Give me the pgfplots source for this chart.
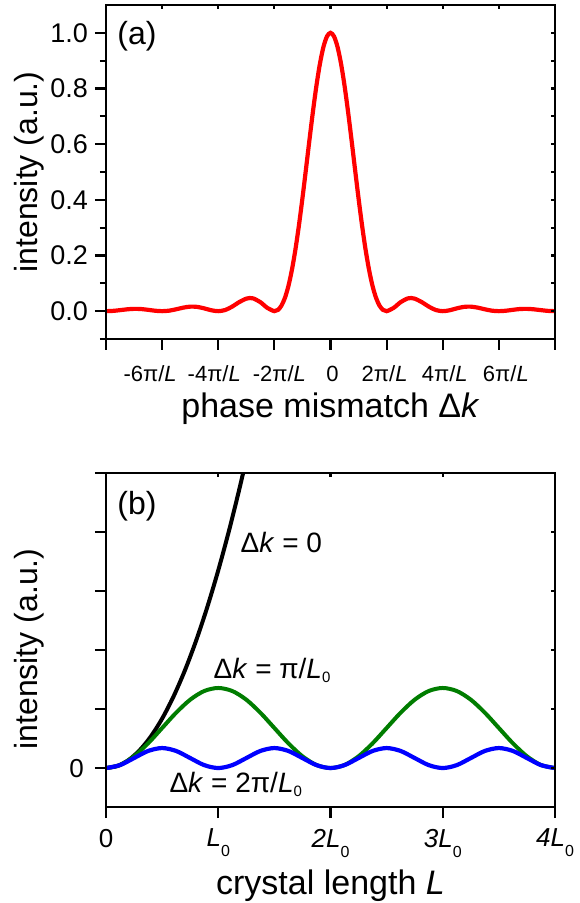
\documentclass[border=0pt]{standalone}
\usepackage{pgfplots}
\pgfplotsset{compat=1.18}
\usepackage{fontspec}
\setmainfont{Liberation Sans}
\definecolor{dgreen}{RGB}{0,125,0}
\tikzset{lab/.style={font=\fontsize{16}{18}\selectfont},
  xlab/.style={font=\fontsize{17}{19}\selectfont},
  ann/.style={font=\fontsize{14}{16}\selectfont, inner sep=0pt, anchor=base west}}
\newcommand\tsub[1]{\raisebox{-5pt}{\fontsize{8}{9}\selectfont #1}}
\newcommand\asub[1]{\raisebox{-2pt}{\fontsize{7.5}{9}\selectfont #1}}
\newcommand\sh[2]{\hspace*{#1}#2\hspace*{-#1}}
\pgfplotsset{
  frame/.style={scale only axis, width=224.5pt, height=167pt,
    axis line style={line width=1.3pt}, every tick/.style={black, line width=1.1pt}},
  overlay/.style={frame, tick align=inside, xtick pos=top, ytick pos=right,
    major tick length=1.8pt, xticklabels={}, yticklabels={}},
}
\begin{document}
\begin{tikzpicture}
\useasboundingbox (-53pt,-48pt) rectangle (236.5pt,403.5pt);
% ---------------- panel (a)
\begin{axis}[frame, at={(0,234pt)}, anchor=south west,
  xmin=-8, xmax=8, ymin=-0.1, ymax=1.1,
  xtick={-8,-6,-4,-2,0,2,4,6,8},
  xticklabels={,\sh{-6pt}{-6π/\textit{L}},\sh{-2pt}{-4π/\textit{L}},\sh{2.5pt}{-2π/\textit{L}},\sh{1pt}{0},\sh{-1pt}{2π/\textit{L}},\sh{1pt}{4π/\textit{L}},\sh{3.5pt}{6π/\textit{L}},},
  ytick={0,0.2,0.4,0.6,0.8,1}, yticklabels={0.0,0.2,0.4,0.6,0.8,1.0},
  minor ytick={-0.1,0.1,0.3,0.5,0.7,0.9},
  tick align=outside, xtick pos=bottom, ytick pos=left,
  major tick length=5.5pt, minor tick length=3pt,
  xticklabel style={font=\fontsize{11}{12}\selectfont, yshift=-4.5pt},
  yticklabel style={font=\fontsize{13.5}{15}\selectfont},
  xlabel={phase mismatch Δ\textit{k}},
  xlabel style={xlab, at={(axis description cs:0.5,-0.2365)}, anchor=base},
  ylabel={intensity (a.u.)},
  ylabel style={lab, at={(axis description cs:-0.1715,0.5)}, anchor=center},
]
\addplot[red, line width=2.1pt, smooth] coordinates {
(-8,0) (-7.75,0.00099) (-7.5,0.00360) (-7.25,0.00658) (-7,0.00827) (-6.75,0.00759) (-6.5,0.00480) (-6.25,0.00152)
(-6,0) (-5.75,0.00180) (-5.5,0.00670) (-5.25,0.01255) (-5,0.01621) (-4.75,0.01533) (-4.5,0.01001) (-4.25,0.00329)
(-4,0) (-3.75,0.00422) (-3.5,0.01654) (-3.25,0.03275) (-3,0.04503) (-2.875,0.04717) (-2.75,0.04574) (-2.5,0.03242) (-2.25,0.01172)
(-2,0) (-1.875,0.00439) (-1.75,0.01938) (-1.625,0.04737) (-1.5,0.09006) (-1.375,0.14820) (-1.25,0.22140) (-1.125,0.30804)
(-1,0.40528) (-0.875,0.50920) (-0.75,0.61498) (-0.625,0.71729) (-0.5,0.81057) (-0.375,0.88955) (-0.25,0.94966) (-0.125,0.98722)
(0,1)
(0.125,0.98722) (0.25,0.94966) (0.375,0.88955) (0.5,0.81057) (0.625,0.71729) (0.75,0.61498) (0.875,0.50920) (1,0.40528)
(1.125,0.30804) (1.25,0.22140) (1.375,0.14820) (1.5,0.09006) (1.625,0.04737) (1.75,0.01938) (1.875,0.00439) (2,0)
(2.25,0.01172) (2.5,0.03242) (2.75,0.04574) (2.875,0.04717) (3,0.04503) (3.25,0.03275) (3.5,0.01654) (3.75,0.00422) (4,0)
(4.25,0.00329) (4.5,0.01001) (4.75,0.01533) (5,0.01621) (5.25,0.01255) (5.5,0.00670) (5.75,0.00180) (6,0)
(6.25,0.00152) (6.5,0.00480) (6.75,0.00759) (7,0.00827) (7.25,0.00658) (7.5,0.00360) (7.75,0.00099) (8,0)
};
\node[font=\fontsize{16}{18}\selectfont] at (axis description cs:0.069,0.907) {(a)};
\end{axis}
\begin{axis}[overlay, at={(0,234pt)}, anchor=south west,
  xmin=-8, xmax=8, ymin=-0.1, ymax=1.1,
  xtick={-8,-6,-4,-2,0,2,4,6,8},
  ytick={-0.1,0,0.1,0.2,0.3,0.4,0.5,0.6,0.7,0.8,0.9,1,1.1}]
\end{axis}
% ---------------- panel (b)
\begin{axis}[frame, at={(0,0)}, anchor=south west,
  xmin=0, xmax=4, ymin=-0.66, ymax=5,
  xtick={0,1,2,3,4},
  xticklabels={0,\textit{L}\tsub{0},\textit{2L}\tsub{0},\textit{3L}\tsub{0},\textit{4L}\tsub{0}},
  ytick={0,1,2,3,4,5}, yticklabels={0,,,,,},
  tick align=outside, xtick pos=bottom, ytick pos=left,
  major tick length=5.5pt,
  ticklabel style={font=\fontsize{13}{14}\selectfont},
  xticklabel style={yshift=-2pt},
  yticklabel style={xshift=-2pt},
  xlabel={crystal length \textit{L}},
  xlabel style={xlab, at={(axis description cs:0.5,-0.2605)}, anchor=base},
  ylabel={intensity (a.u.)},
  ylabel style={lab, at={(axis description cs:-0.1715,0.473)}, anchor=center},
]
\addplot[black, line width=2pt, smooth] coordinates {
(0,0) (0.1,0.0335) (0.2,0.134) (0.3,0.3015) (0.4,0.536) (0.5,0.8375) (0.6,1.206) (0.7,1.6415)
(0.8,2.144) (0.9,2.7135) (1.0,3.35) (1.1,4.0535) (1.2,4.824) (1.3,5.6615)
};
\addplot[dgreen, line width=2pt, smooth] coordinates {
(0,0) (0.125,0.0517) (0.25,0.1987) (0.375,0.4189) (0.5,0.6785) (0.625,0.9382) (0.75,1.1583) (0.875,1.3054)
(1,1.357) (1.125,1.3054) (1.25,1.1583) (1.375,0.9382) (1.5,0.6785) (1.625,0.4189) (1.75,0.1987) (1.875,0.0517)
(2,0) (2.125,0.0517) (2.25,0.1987) (2.375,0.4189) (2.5,0.6785) (2.625,0.9382) (2.75,1.1583) (2.875,1.3054)
(3,1.357) (3.125,1.3054) (3.25,1.1583) (3.375,0.9382) (3.5,0.6785) (3.625,0.4189) (3.75,0.1987) (3.875,0.0517)
(4,0)
};
\addplot[blue, line width=2.1pt, smooth] coordinates {
(0,0) (0.125,0.0496) (0.25,0.1695) (0.375,0.2894) (0.5,0.339) (0.625,0.2894) (0.75,0.1695) (0.875,0.0496)
(1,0) (1.125,0.0496) (1.25,0.1695) (1.375,0.2894) (1.5,0.339) (1.625,0.2894) (1.75,0.1695) (1.875,0.0496)
(2,0) (2.125,0.0496) (2.25,0.1695) (2.375,0.2894) (2.5,0.339) (2.625,0.2894) (2.75,0.1695) (2.875,0.0496)
(3,0) (3.125,0.0496) (3.25,0.1695) (3.375,0.2894) (3.5,0.339) (3.625,0.2894) (3.75,0.1695) (3.875,0.0496)
(4,0)
};
\node[font=\fontsize{16}{18}\selectfont] at (axis description cs:0.069,0.9) {(b)};
\node[ann] at (axis cs:1.196,3.66) {Δ\textit{k} = 0};
\node[ann] at (axis cs:0.955,1.525) {Δ\textit{k} = π/\textit{L}\asub{0}};
\node[ann] at (axis cs:0.5625,-0.41) {Δ\textit{k} = 2π/\textit{L}\asub{0}};
\end{axis}
\begin{axis}[overlay, at={(0,0)}, anchor=south west,
  xmin=0, xmax=4, ymin=-0.66, ymax=5,
  xtick={0,1,2,3,4}, ytick={0,1,2,3,4,5}]
\end{axis}
\end{tikzpicture}
\end{document}
